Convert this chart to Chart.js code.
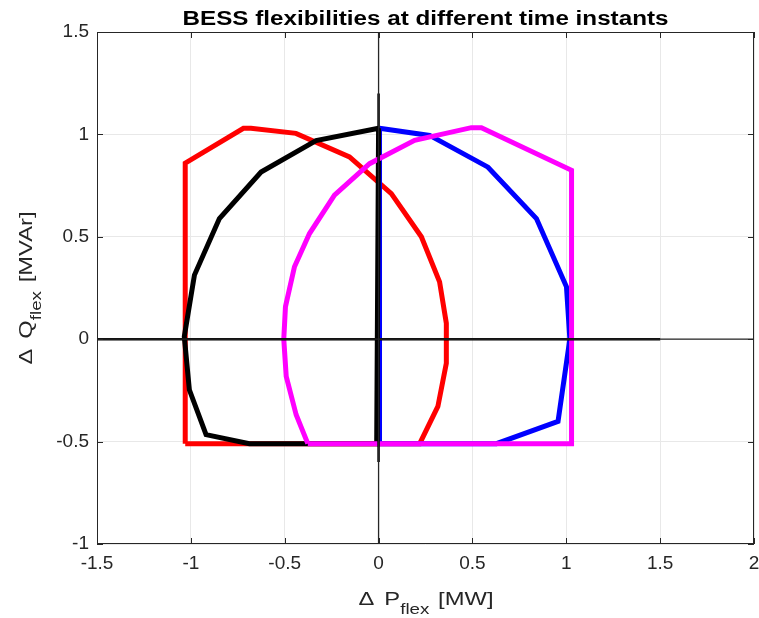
<!DOCTYPE html>
<html>
<head>
<meta charset="utf-8">
<script src="https://cdn.jsdelivr.net/npm/chart.js@4"></script>
<style>
  body { margin: 0; background: #fff; }
  #wrap { width: 759px; height: 618px; }
</style>
</head>
<body>
<div id="wrap"><canvas id="bessChart"></canvas></div>
<script>
// flexibility regions (P in MW, Q in MVAr)
const redP = [-1.03, -1.03, -0.72, -0.68, -0.44, -0.155, 0.068, 0.228, 0.325, 0.361, 0.361, 0.316, 0.219, -1.03];
const redQ = [-0.51, 0.86, 1.03, 1.03, 1.005, 0.89, 0.711, 0.5, 0.28, 0.078, -0.117, -0.328, -0.51, -0.51];

const blueP = [0.005, 0.272, 0.583, 0.841, 1.001, 1.019, 0.956, 0.628, 0.005, 0.005];
const blueQ = [1.03, 0.995, 0.84, 0.589, 0.256, 0.0, -0.401, -0.51, -0.51, 1.03];

const blackP = [0, -0.333, -0.626, -0.848, -0.981, -1.035, -1.008, -0.919, -0.688, -0.377, -0.01, 0];
const blackQ = [1.03, 0.97, 0.816, 0.589, 0.313, 0.013, -0.247, -0.466, -0.51, -0.51, -0.51, 1.03];

const magentaP = [-0.377, -0.439, -0.492, -0.505, -0.496, -0.448, -0.368, -0.235, -0.048, 0.192, 0.494, 0.548, 1.028, 1.028, -0.377];
const magentaQ = [-0.51, -0.369, -0.182, 0.0, 0.159, 0.354, 0.516, 0.703, 0.857, 0.971, 1.033, 1.033, 0.825, -0.51, -0.51];

// axis cross lines
const hAxisP = [-1.5, 1.5];
const hAxisQ = [0, 0];
const vAxisP = [0, 0];
const vAxisQ = [-0.6, 1.2];
const hFullP = [-1.5, 2];
const hFullQ = [0, 0];
const vFullP = [0, 0];
const vFullQ = [-1, 1.5];

const xTicks = [-1.5, -1, -0.5, 0, 0.5, 1, 1.5, 2];
const yTicks = [-1, -0.5, 0, 0.5, 1, 1.5];

const titleText = "BESS flexibilities at different time instants";

function pts(xs, ys) {
  return xs.map((v, i) => ({ x: v, y: ys[i] }));
}

function lineSet(xs, ys, color, width, order) {
  return {
    data: pts(xs, ys),
    showLine: true,
    borderColor: color,
    backgroundColor: color,
    borderWidth: width,
    pointRadius: 0,
    tension: 0,
    fill: false,
    borderJoinStyle: "miter",
    order: order
  };
}

const FONT = "'Liberation Sans', Arial, sans-serif";
const INK = "#262626";

// draw text pieces (with subscript) stretched to a target width
function drawLabel(ctx, parts, targetW) {
  let total = 0;
  parts.forEach(p => {
    ctx.font = p.font;
    p.w = ctx.measureText(p.text).width;
    total += p.w + (p.gap || 0);
  });
  const sx = targetW / total;
  ctx.scale(sx, 1);
  let cx = -total / 2;
  parts.forEach(p => {
    ctx.font = p.font;
    ctx.fillText(p.text, cx, p.dy || 0);
    cx += p.w + (p.gap || 0);
  });
}

const framePlugin = {
  id: "framePlugin",
  afterDraw(chart) {
    const { ctx, chartArea: a, scales } = chart;
    ctx.save();
    ctx.strokeStyle = INK;
    ctx.lineWidth = 1;
    ctx.strokeRect(a.left + 0.5, a.top + 0.5, a.right - a.left - 1, a.bottom - a.top - 1);

    // inward tick marks
    ctx.beginPath();
    xTicks.forEach(v => {
      const px = Math.round(scales.x.getPixelForValue(v)) + 0.5;
      ctx.moveTo(px, a.bottom); ctx.lineTo(px, a.bottom - 6);
      ctx.moveTo(px, a.top); ctx.lineTo(px, a.top + 6);
    });
    yTicks.forEach(v => {
      const py = Math.round(scales.y.getPixelForValue(v)) + 0.5;
      ctx.moveTo(a.left, py); ctx.lineTo(a.left + 6, py);
      ctx.moveTo(a.right, py); ctx.lineTo(a.right - 6, py);
    });
    ctx.stroke();

    ctx.fillStyle = "#000";
    ctx.textBaseline = "alphabetic";
    ctx.textAlign = "left";

    // title
    ctx.save();
    ctx.translate((a.left + a.right) / 2, 25);
    drawLabel(ctx, [{ text: titleText, font: "bold 20px " + FONT }], 486);
    ctx.restore();

    ctx.fillStyle = INK;
    // x axis title
    ctx.save();
    ctx.translate(426, 605);
    drawLabel(ctx, [
      { text: "\u0394", font: "19px " + FONT, gap: 8 },
      { text: "P", font: "19px " + FONT },
      { text: "flex", font: "15px " + FONT, dy: 9, gap: 7 },
      { text: "[MW]", font: "19px " + FONT }
    ], 135);
    ctx.restore();

    // y axis title
    ctx.save();
    ctx.translate(32, (a.top + a.bottom) / 2);
    ctx.rotate(-Math.PI / 2);
    drawLabel(ctx, [
      { text: "\u0394", font: "19px " + FONT, gap: 8 },
      { text: "Q", font: "19px " + FONT },
      { text: "flex", font: "15px " + FONT, dy: 9, gap: 7 },
      { text: "[MVAr]", font: "19px " + FONT }
    ], 153);
    ctx.restore();

    ctx.restore();
  }
};

const ctx = document.getElementById("bessChart").getContext("2d");
new Chart(ctx, {
  type: "scatter",
  data: {
    datasets: [
      lineSet(hFullP, hFullQ, INK, 1.3, 0),
      lineSet(vFullP, vFullQ, INK, 1.3, 0),
      lineSet(hAxisP, hAxisQ, "#000", 2.5, 0),
      lineSet(vAxisP, vAxisQ, "#000", 2.5, 0),
      lineSet(magentaP, magentaQ, "#ff00ff", 5, 1),
      lineSet(blackP, blackQ, "#000000", 5, 2),
      lineSet(blueP, blueQ, "#0000ff", 5, 3),
      lineSet(redP, redQ, "#ff0000", 5, 4)
    ]
  },
  options: {
    responsive: true,
    maintainAspectRatio: false,
    animation: false,
    layout: { padding: { top: 32, right: 5, left: 0, bottom: 0 } },
    plugins: {
      legend: { display: false },
      tooltip: { enabled: false },
      title: { display: false }
    },
    scales: {
      x: {
        type: "linear",
        min: -1.5,
        max: 2,
        afterBuildTicks: s => { s.ticks = xTicks.map(v => ({ value: v })); },
        afterFit: s => { s.height = 74; s.paddingLeft = 0; s.paddingRight = 0; },
        grid: { color: "#e8e8e8", drawTicks: false },
        border: { display: false },
        ticks: {
          padding: 8,
          color: INK,
          font: { family: FONT, size: 19 },
          callback: v => String(v)
        }
      },
      y: {
        type: "linear",
        min: -1,
        max: 1.5,
        afterBuildTicks: s => { s.ticks = yTicks.map(v => ({ value: v })); },
        afterFit: s => { s.width = 97; s.paddingTop = 0; s.paddingBottom = 0; },
        grid: { color: "#e8e8e8", drawTicks: false },
        border: { display: false },
        ticks: {
          padding: 8,
          color: INK,
          font: { family: FONT, size: 19 },
          callback: v => String(v)
        }
      }
    }
  },
  plugins: [framePlugin]
});
</script>
</body>
</html>
